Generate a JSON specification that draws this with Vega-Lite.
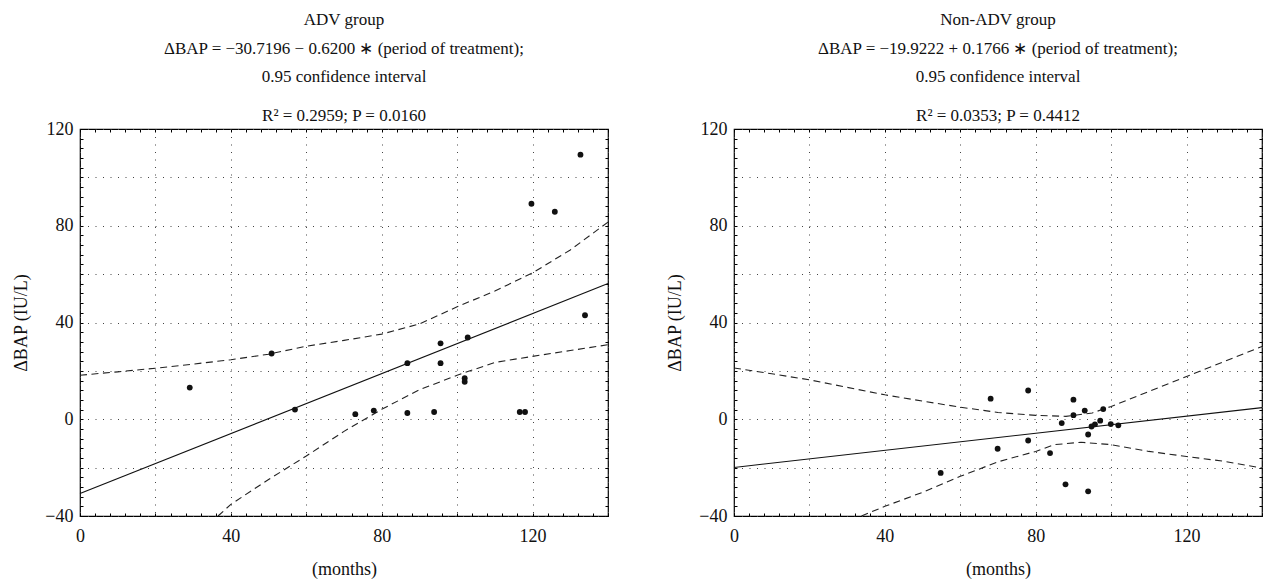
{
  "$schema": "https://vega.github.io/schema/vega-lite/v6.json",
  "background": "white",
  "padding": {"left": 12, "top": 10, "right": 5, "bottom": 5},
  "config": {
    "font": "Liberation Serif",
    "view": {"stroke": "#000", "strokeWidth": 1.2},
    "axis": {"labelFont": "Liberation Serif", "titleFont": "Liberation Serif", "labelFontSize": 18, "titleFontSize": 18, "titleFontWeight": "normal", "labelColor": "#111", "titleColor": "#111", "labelFlush": false, "labelOverlap": false, "labelBound": false}
  },
  "datasets": {
    "pts": [
      {"group": "ADV", "x": 29.1, "y": 13.1}, {"group": "ADV", "x": 50.8, "y": 27.2}, {"group": "ADV", "x": 57, "y": 4},
      {"group": "ADV", "x": 73, "y": 2.1}, {"group": "ADV", "x": 77.9, "y": 3.6}, {"group": "ADV", "x": 86.8, "y": 23.2},
      {"group": "ADV", "x": 86.8, "y": 2.6}, {"group": "ADV", "x": 93.9, "y": 3.0}, {"group": "ADV", "x": 95.6, "y": 31.4},
      {"group": "ADV", "x": 95.6, "y": 23.2}, {"group": "ADV", "x": 102, "y": 17}, {"group": "ADV", "x": 102, "y": 15.5},
      {"group": "ADV", "x": 102.8, "y": 33.8}, {"group": "ADV", "x": 116.6, "y": 3}, {"group": "ADV", "x": 118, "y": 3},
      {"group": "ADV", "x": 119.7, "y": 89.1}, {"group": "ADV", "x": 125.9, "y": 85.8}, {"group": "ADV", "x": 132.7, "y": 109.4},
      {"group": "ADV", "x": 133.9, "y": 43},
      {"group": "NON", "x": 54.8, "y": -22.2}, {"group": "NON", "x": 68.05, "y": 8.5}, {"group": "NON", "x": 69.9, "y": -12.2},
      {"group": "NON", "x": 78, "y": 11.9}, {"group": "NON", "x": 78, "y": -8.8}, {"group": "NON", "x": 83.8, "y": -14},
      {"group": "NON", "x": 86.9, "y": -1.6}, {"group": "NON", "x": 87.9, "y": -26.9}, {"group": "NON", "x": 90, "y": 8.1},
      {"group": "NON", "x": 90, "y": 1.7}, {"group": "NON", "x": 93, "y": 3.6}, {"group": "NON", "x": 93.9, "y": -6.3},
      {"group": "NON", "x": 93.9, "y": -29.8}, {"group": "NON", "x": 94.8, "y": -3.0}, {"group": "NON", "x": 95.7, "y": -2.1},
      {"group": "NON", "x": 97.1, "y": -0.6}, {"group": "NON", "x": 97.9, "y": 4.2}, {"group": "NON", "x": 99.9, "y": -2.0},
      {"group": "NON", "x": 101.9, "y": -2.5}
    ],
    "curves": [
      {"group": "ADV", "kind": "fit", "x": 0, "y": -30.72}, {"group": "ADV", "kind": "fit", "x": 140, "y": 56.08},
      {"group": "ADV", "kind": "upper", "x": 0, "y": 18.2}, {"group": "ADV", "kind": "upper", "x": 10, "y": 19.6},
      {"group": "ADV", "kind": "upper", "x": 20, "y": 21.1}, {"group": "ADV", "kind": "upper", "x": 30, "y": 22.8},
      {"group": "ADV", "kind": "upper", "x": 40, "y": 24.6}, {"group": "ADV", "kind": "upper", "x": 50, "y": 26.9},
      {"group": "ADV", "kind": "upper", "x": 60, "y": 30.2}, {"group": "ADV", "kind": "upper", "x": 70, "y": 32.6},
      {"group": "ADV", "kind": "upper", "x": 80, "y": 35.2}, {"group": "ADV", "kind": "upper", "x": 90, "y": 39.4},
      {"group": "ADV", "kind": "upper", "x": 100, "y": 46.5}, {"group": "ADV", "kind": "upper", "x": 110, "y": 53},
      {"group": "ADV", "kind": "upper", "x": 120, "y": 60.5}, {"group": "ADV", "kind": "upper", "x": 130, "y": 70},
      {"group": "ADV", "kind": "upper", "x": 140, "y": 81.5},
      {"group": "ADV", "kind": "lower", "x": 36.6, "y": -40}, {"group": "ADV", "kind": "lower", "x": 40, "y": -35.2},
      {"group": "ADV", "kind": "lower", "x": 50, "y": -24.9}, {"group": "ADV", "kind": "lower", "x": 60, "y": -15.2},
      {"group": "ADV", "kind": "lower", "x": 70, "y": -5}, {"group": "ADV", "kind": "lower", "x": 80, "y": 4.1},
      {"group": "ADV", "kind": "lower", "x": 90, "y": 12.2}, {"group": "ADV", "kind": "lower", "x": 100, "y": 18.2},
      {"group": "ADV", "kind": "lower", "x": 110, "y": 23.5}, {"group": "ADV", "kind": "lower", "x": 120, "y": 26},
      {"group": "ADV", "kind": "lower", "x": 130, "y": 28.4}, {"group": "ADV", "kind": "lower", "x": 140, "y": 30.8},
      {"group": "NON", "kind": "fit", "x": 0, "y": -19.92}, {"group": "NON", "kind": "fit", "x": 140, "y": 4.8},
      {"group": "NON", "kind": "upper", "x": 0, "y": 21.2}, {"group": "NON", "kind": "upper", "x": 10, "y": 18.8},
      {"group": "NON", "kind": "upper", "x": 20, "y": 16.3}, {"group": "NON", "kind": "upper", "x": 30, "y": 13.2},
      {"group": "NON", "kind": "upper", "x": 40, "y": 10.1}, {"group": "NON", "kind": "upper", "x": 50, "y": 7.5},
      {"group": "NON", "kind": "upper", "x": 60, "y": 5.0}, {"group": "NON", "kind": "upper", "x": 70, "y": 2.8},
      {"group": "NON", "kind": "upper", "x": 80, "y": 1.6}, {"group": "NON", "kind": "upper", "x": 88, "y": 1.2},
      {"group": "NON", "kind": "upper", "x": 95, "y": 2.6}, {"group": "NON", "kind": "upper", "x": 100, "y": 5.3},
      {"group": "NON", "kind": "upper", "x": 110, "y": 11.5}, {"group": "NON", "kind": "upper", "x": 120, "y": 17.7},
      {"group": "NON", "kind": "upper", "x": 130, "y": 23.9}, {"group": "NON", "kind": "upper", "x": 140, "y": 30.1},
      {"group": "NON", "kind": "lower", "x": 33.8, "y": -40}, {"group": "NON", "kind": "lower", "x": 40, "y": -36},
      {"group": "NON", "kind": "lower", "x": 50, "y": -30.2}, {"group": "NON", "kind": "lower", "x": 60, "y": -23.6},
      {"group": "NON", "kind": "lower", "x": 70, "y": -17.6}, {"group": "NON", "kind": "lower", "x": 80, "y": -13.3},
      {"group": "NON", "kind": "lower", "x": 85, "y": -10.5}, {"group": "NON", "kind": "lower", "x": 92, "y": -9.5},
      {"group": "NON", "kind": "lower", "x": 100, "y": -10.5}, {"group": "NON", "kind": "lower", "x": 110, "y": -13.3},
      {"group": "NON", "kind": "lower", "x": 120, "y": -15.4}, {"group": "NON", "kind": "lower", "x": 130, "y": -17.4},
      {"group": "NON", "kind": "lower", "x": 140, "y": -20.2}
    ]
  },
  "spacing": 55,
  "hconcat": [
    {
      "width": 528, "height": 387,
      "title": {"text": ["ADV group", "ΔBAP = −30.7196 − 0.6200 ∗ (period of treatment);", "0.95 confidence interval"], "subtitle": "R² = 0.2959; P = 0.0160", "font": "Liberation Serif", "fontSize": 17, "fontWeight": "normal", "lineHeight": 28.5, "color": "#111", "subtitleFont": "Liberation Serif", "subtitleFontSize": 17, "subtitleColor": "#111", "subtitlePadding": 22, "offset": -5, "anchor": "middle"},
      "resolve": {"axis": {"x": "independent", "y": "independent"}},
      "layer": [
        {
          "data": {"name": "curves"},
          "transform": [{"filter": "datum.group === 'ADV' && datum.kind !== 'fit'"}],
          "mark": {"type": "line", "color": "#222", "strokeWidth": 1.1, "strokeDash": [7, 4.5]},
          "encoding": {
            "x": {"field": "x", "type": "quantitative", "scale": {"domain": [0, 140], "nice": false, "zero": false},
              "axis": {"orient": "bottom", "values": [0,4,8,12,16,20,24,28,32,36,40,44,48,52,56,60,64,68,72,76,80,84,88,92,96,100,104,108,112,116,120,124,128,132,136,140], "labelExpr": "datum.value % 40 === 0 ? datum.label : ''", "title": "(months)", "grid": true, "gridColor": "#444", "gridDash": [1, 6.5], "gridOpacity": {"condition": {"test": "datum.value % 20 === 0", "value": 1}, "value": 0}, "tickSize": -3, "tickColor": "#000", "domain": false, "labelPadding": 14, "titlePadding": 15}},
            "y": {"field": "y", "type": "quantitative", "scale": {"domain": [-40, 120], "nice": false, "zero": false},
              "axis": {"orient": "left", "values": [-40,-36,-32,-28,-24,-20,-16,-12,-8,-4,0,4,8,12,16,20,24,28,32,36,40,44,48,52,56,60,64,68,72,76,80,84,88,92,96,100,104,108,112,116,120], "labelExpr": "datum.value % 40 === 0 ? replace(datum.label, '-', '−') : ''", "title": "ΔBAP (IU/L)", "grid": true, "gridColor": "#444", "gridDash": [1, 6.5], "gridOpacity": {"condition": {"test": "datum.value % 20 === 0", "value": 1}, "value": 0}, "tickSize": -3, "tickColor": "#000", "domain": false, "labelPadding": 10, "titlePadding": 14}},
            "detail": {"field": "kind"}
          }
        },
        {
          "data": {"name": "curves"},
          "transform": [{"filter": "datum.group === 'ADV' && datum.kind === 'fit'"}],
          "mark": {"type": "line", "color": "#111", "strokeWidth": 1.1},
          "encoding": {
            "x": {"field": "x", "type": "quantitative", "axis": null},
            "y": {"field": "y", "type": "quantitative", "axis": null}
          }
        },
        {
          "data": {"name": "pts"},
          "transform": [{"filter": "datum.group === 'ADV'"}],
          "mark": {"type": "circle", "color": "#111", "size": 34, "opacity": 1},
          "encoding": {
            "x": {"field": "x", "type": "quantitative", "axis": {"orient": "top", "values": [0,4,8,12,16,20,24,28,32,36,40,44,48,52,56,60,64,68,72,76,80,84,88,92,96,100,104,108,112,116,120,124,128,132,136,140], "labels": false, "grid": false, "title": null, "tickSize": -3, "tickColor": "#000", "domain": false}},
            "y": {"field": "y", "type": "quantitative", "axis": {"orient": "right", "values": [-40,-36,-32,-28,-24,-20,-16,-12,-8,-4,0,4,8,12,16,20,24,28,32,36,40,44,48,52,56,60,64,68,72,76,80,84,88,92,96,100,104,108,112,116,120], "labels": false, "grid": false, "title": null, "tickSize": -3, "tickColor": "#000", "domain": false}}
          }
        }
      ]
    },
    {
      "width": 528, "height": 387,
      "title": {"text": ["Non-ADV group", "ΔBAP = −19.9222 + 0.1766 ∗ (period of treatment);", "0.95 confidence interval"], "subtitle": "R² = 0.0353; P = 0.4412", "font": "Liberation Serif", "fontSize": 17, "fontWeight": "normal", "lineHeight": 28.5, "color": "#111", "subtitleFont": "Liberation Serif", "subtitleFontSize": 17, "subtitleColor": "#111", "subtitlePadding": 22, "offset": -5, "anchor": "middle"},
      "resolve": {"axis": {"x": "independent", "y": "independent"}},
      "layer": [
        {
          "data": {"name": "curves"},
          "transform": [{"filter": "datum.group === 'NON' && datum.kind !== 'fit'"}],
          "mark": {"type": "line", "color": "#222", "strokeWidth": 1.1, "strokeDash": [7, 4.5]},
          "encoding": {
            "x": {"field": "x", "type": "quantitative", "scale": {"domain": [0, 140], "nice": false, "zero": false},
              "axis": {"orient": "bottom", "values": [0,4,8,12,16,20,24,28,32,36,40,44,48,52,56,60,64,68,72,76,80,84,88,92,96,100,104,108,112,116,120,124,128,132,136,140], "labelExpr": "datum.value % 40 === 0 ? datum.label : ''", "title": "(months)", "grid": true, "gridColor": "#444", "gridDash": [1, 6.5], "gridOpacity": {"condition": {"test": "datum.value % 20 === 0", "value": 1}, "value": 0}, "tickSize": -3, "tickColor": "#000", "domain": false, "labelPadding": 14, "titlePadding": 15}},
            "y": {"field": "y", "type": "quantitative", "scale": {"domain": [-40, 120], "nice": false, "zero": false},
              "axis": {"orient": "left", "values": [-40,-36,-32,-28,-24,-20,-16,-12,-8,-4,0,4,8,12,16,20,24,28,32,36,40,44,48,52,56,60,64,68,72,76,80,84,88,92,96,100,104,108,112,116,120], "labelExpr": "datum.value % 40 === 0 ? replace(datum.label, '-', '−') : ''", "title": "ΔBAP (IU/L)", "grid": true, "gridColor": "#444", "gridDash": [1, 6.5], "gridOpacity": {"condition": {"test": "datum.value % 20 === 0", "value": 1}, "value": 0}, "tickSize": -3, "tickColor": "#000", "domain": false, "labelPadding": 10, "titlePadding": 14}},
            "detail": {"field": "kind"}
          }
        },
        {
          "data": {"name": "curves"},
          "transform": [{"filter": "datum.group === 'NON' && datum.kind === 'fit'"}],
          "mark": {"type": "line", "color": "#111", "strokeWidth": 1.1},
          "encoding": {
            "x": {"field": "x", "type": "quantitative", "axis": null},
            "y": {"field": "y", "type": "quantitative", "axis": null}
          }
        },
        {
          "data": {"name": "pts"},
          "transform": [{"filter": "datum.group === 'NON'"}],
          "mark": {"type": "circle", "color": "#111", "size": 34, "opacity": 1},
          "encoding": {
            "x": {"field": "x", "type": "quantitative", "axis": {"orient": "top", "values": [0,4,8,12,16,20,24,28,32,36,40,44,48,52,56,60,64,68,72,76,80,84,88,92,96,100,104,108,112,116,120,124,128,132,136,140], "labels": false, "grid": false, "title": null, "tickSize": -3, "tickColor": "#000", "domain": false}},
            "y": {"field": "y", "type": "quantitative", "axis": {"orient": "right", "values": [-40,-36,-32,-28,-24,-20,-16,-12,-8,-4,0,4,8,12,16,20,24,28,32,36,40,44,48,52,56,60,64,68,72,76,80,84,88,92,96,100,104,108,112,116,120], "labels": false, "grid": false, "title": null, "tickSize": -3, "tickColor": "#000", "domain": false}}
          }
        }
      ]
    }
  ]
}
